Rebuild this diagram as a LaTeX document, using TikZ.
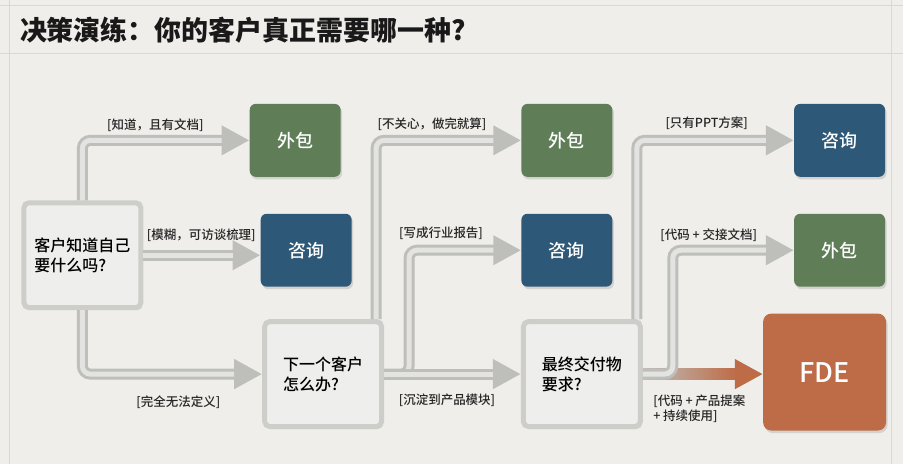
\documentclass[tikz,border=0pt]{standalone}
\usepackage{fontspec}
\setmainfont{Noto Sans CJK SC}
\newfontfamily\medfont{Noto Sans CJK SC Medium}
\usetikzlibrary{arrows.meta,shadows}
\definecolor{bgpaper}{HTML}{EFEEEA}
\definecolor{rulegray}{HTML}{D9D8D4}
\definecolor{outgreen}{HTML}{5F7D57}
\definecolor{conblue}{HTML}{2E5878}
\definecolor{fdeorange}{HTML}{BE6C47}
\definecolor{pipegray}{HTML}{BEBEBB}
\definecolor{pipelight}{HTML}{E3E3E1}
\definecolor{qframe}{HTML}{CDCDCA}
\definecolor{qfill}{HTML}{EEEEEC}

\begin{document}
\begin{tikzpicture}[x=1pt,y=-1pt,
  qbox/.style={draw=qframe, line width=5pt, fill=qfill, rounded corners=5pt,
    minimum width=117pt, minimum height=105pt, align=left,
    font=\medfont\fontsize{16}{20}\selectfont,
    drop shadow={opacity=0.2, shadow xshift=1.5pt, shadow yshift=-2.5pt}},
  endbox/.style={fill=#1, rounded corners=6pt, minimum width=91pt,
    minimum height=73pt, text=white, font=\medfont\fontsize{18}{22}\selectfont,
    drop shadow={opacity=0.25, shadow xshift=1.5pt, shadow yshift=-2.5pt}},
  pipe/.style={line width=11pt, draw=pipegray, rounded corners=8pt,
    -{Triangle[length=28pt,width=28pt]},
    postaction={draw=pipelight, line width=5pt, -, shorten >=28pt}},
  lbl/.style={font=\medfont\fontsize{12.5}{15}\selectfont, text=black!85}]
\fill[bgpaper] (0,0) rectangle (903,464);
\draw[rulegray, line width=1pt] (0,5) -- (903,5);
\draw[rulegray, line width=1pt] (0,53) -- (903,53);
\draw[rulegray, line width=1pt] (9,0) -- (9,464);
\draw[rulegray, line width=1pt] (892,0) -- (892,464);
\useasboundingbox (0,0) rectangle (903,464);

\node[anchor=west, font=\fontsize{27}{30}\selectfont\bfseries, text=black!90] (title) at (16,30) {决策演练：你的客户真正需要哪一种?};

\node[qbox] (q1) at (82,255) {客户知道自己\\要什么吗?};
\node[qbox] (q2) at (323,374) {下一个客户\\怎么办?};
\node[qbox] (q3) at (582,374) {最终交付物\\要求?};
\node[endbox=outgreen] (w1) at (295,140) {外包};
\node[endbox=conblue] (c1) at (306,250) {咨询};
\node[endbox=outgreen] (w2) at (567,140) {外包};
\node[endbox=conblue] (c2) at (567,250) {咨询};
\node[endbox=conblue] (c3) at (840,140) {咨询};
\node[endbox=outgreen] (w3) at (840,250) {外包};
\node[fill=fdeorange, rounded corners=8pt, minimum width=123pt, minimum height=117pt,
  text=white, font=\medfont\fontsize{27}{30}\selectfont,
  drop shadow={opacity=0.25, shadow xshift=1.5pt, shadow yshift=-2.5pt}] (fde) at (825,372) {FDE};

\draw[pipe] (q1.north) |- (w1.west);
\draw[pipe] (q1.east) -- (q1.east -| c1.west);
\draw[pipe] (q1.south) |- (q2.west);
\draw[pipe] ([xshift=-8pt]q2.north east) |- (w2.west);
\draw[pipe] (q2.east) -- ++(25,0) |- (c2.west);
\draw[pipe] (q2.east) -- (q3.west);
\draw[pipe] ([xshift=-6pt]q3.north east) |- (c3.west);
\coordinate (fdetip) at (q3.east -| fde.west);
\draw[pipe, draw=fdeorange] (q3.east) -- (fdetip);
\shade[left color=pipegray, right color=fdeorange] ([shift={(0,-5.5)}]q3.east) rectangle ([shift={(-27,5.5)}]fdetip);
\draw[pipe] (q3.east) -- ++(30,0) |- (w3.west);

\node[lbl] (l1) at (155,125) {[知道，且有文档]};
\node[lbl] (l2) at (201,235) {[模糊，可访谈梳理]};
\node[lbl] (l3) at (178,402) {[完全无法定义]};
\node[lbl] (l4) at (432,124) {[不关心，做完就算]};
\node[lbl] (l5) at (441,233) {[写成行业报告]};
\node[lbl] (l6) at (447,400) {[沉淀到产品模块]};
\node[lbl] (l7) at (707,123) {[只有PPT方案]};
\node[lbl] (l8) at (709,235) {[代码 + 交接文档]};
\node[lbl, align=left, anchor=north west] (l9) at (650,391) {[代码 + 产品提案\\+ 持续使用]};
\end{tikzpicture}
\end{document}
